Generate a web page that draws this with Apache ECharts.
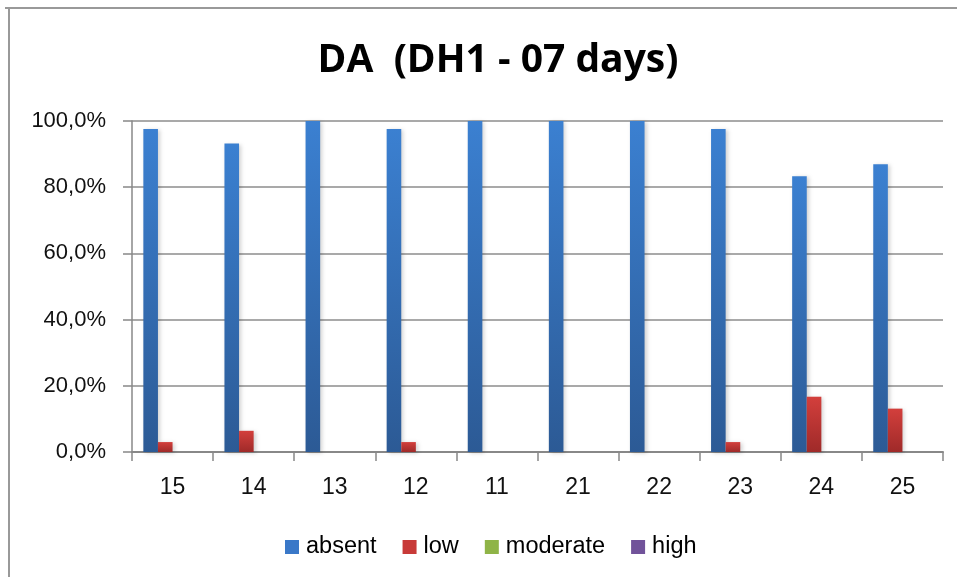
<!DOCTYPE html>
<html><head><meta charset="utf-8">
<script src="https://cdn.jsdelivr.net/npm/echarts@6/dist/echarts.min.js"></script>
<style>html,body{margin:0;padding:0;background:#fff}#c{width:957px;height:577px}</style>
</head><body><div id="c"></div>
<script>
const categories = ['15','14','13','12','11','21','22','23','24','25'];
const absent   = [97.6, 93.2, 100, 97.6, 100, 100, 100, 97.6, 83.3, 86.9];
const low      = [3.0, 6.4, 0, 3.0, 0, 0, 0, 3.0, 16.7, 13.1];
const moderate = [0, 0, 0, 0, 0, 0, 0, 0, 0, 0];
const high     = [0, 0, 0, 0, 0, 0, 0, 0, 0, 0];
const seriesNames = ['absent', 'low', 'moderate', 'high'];
const yTicks = [0, 20, 40, 60, 80, 100];

const grad = (a, b) => new echarts.graphic.LinearGradient(0, 0, 0, 1, [{offset: 0, color: a}, {offset: 1, color: b}]);
const colors = [['#3b80d1', '#2c5a95'], ['#d33f3c', '#9f2a29'], ['#9bc14a', '#75923a'], ['#7f5fa8', '#5d4480']];
const legendColors = ['#3a78c8', '#c83a38', '#8fb447', '#71539a'];
const fontFam = 'Liberation Sans, Arial, sans-serif';
const data = [absent, low, moderate, high];

const chart = echarts.init(document.getElementById('c'), null, {renderer: 'canvas'});
chart.setOption({
  animation: false,
  backgroundColor: '#fff',
  title: {
    text: 'DA  (DH1 - 07 days)', left: 493, textAlign: 'center', top: 36,
    textStyle: {fontFamily: 'Open Sans, Liberation Sans, sans-serif', fontWeight: 'bold', fontSize: 39, color: '#000'}
  },
  legend: {
    bottom: 18, left: 285, padding: 0, itemWidth: 14, itemHeight: 14, itemGap: 26,
    icon: 'rect',
    textStyle: {fontFamily: fontFam, fontSize: 23.5, color: '#000', padding: [0, 0, 0, 2]},
    data: seriesNames.map((n, i) => ({name: n, itemStyle: {color: legendColors[i]}}))
  },
  grid: {left: 132, right: 14, top: 121, bottom: 125, containLabel: false},
  xAxis: {
    type: 'category', data: categories,
    axisLine: {lineStyle: {color: '#888', width: 2}},
    axisTick: {show: true, length: 9, lineStyle: {color: '#888', width: 1.5}, alignWithLabel: false},
    axisLabel: {fontFamily: fontFam, fontSize: 23, color: '#111', margin: 24}
  },
  yAxis: {
    type: 'value', min: 0, max: 100, interval: 20,
    axisLine: {show: true, lineStyle: {color: '#888', width: 1.5}},
    axisTick: {show: true, length: 9, lineStyle: {color: '#888', width: 1.5}},
    splitLine: {lineStyle: {color: '#8c8c8c', width: 1.5}},
    axisLabel: {fontFamily: fontFam, fontSize: 22, color: '#111', margin: 26,
      formatter: v => yTicks.includes(v) ? v.toFixed(1).replace('.', ',') + '%' : ''}
  },
  series: seriesNames.map((n, i) => ({
    name: n, type: 'bar', data: data[i],
    barGap: '0%', barCategoryGap: '28%',
    itemStyle: {color: grad(colors[i][0], colors[i][1]), shadowColor: 'rgba(0,0,0,0.18)', shadowBlur: 4, shadowOffsetX: 2, shadowOffsetY: 1}
  })),
  graphic: [
    {type: 'line', shape: {x1: 5, y1: 8, x2: 957, y2: 8}, style: {stroke: '#999', lineWidth: 2}},
    {type: 'line', shape: {x1: 9, y1: 8, x2: 9, y2: 577}, style: {stroke: '#999', lineWidth: 2}}
  ]
});
</script></body></html>
